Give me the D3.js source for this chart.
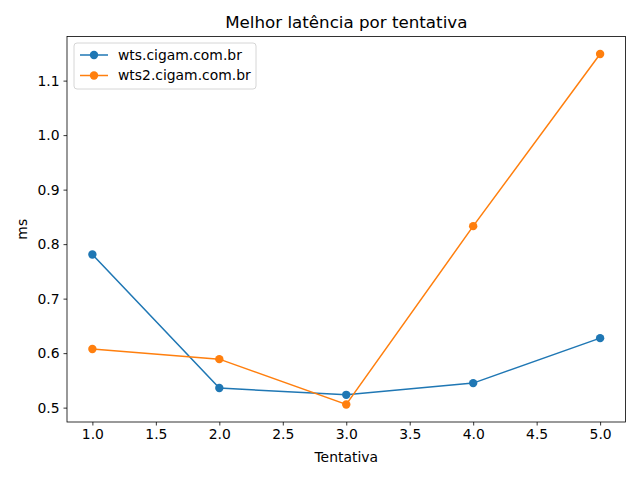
<!DOCTYPE html>
<html><head><meta charset="utf-8">
<script src="https://cdn.jsdelivr.net/npm/d3@7"></script>
<style>body{margin:0;background:#fff}svg{display:block}</style>
</head><body>
<script>
const tentativas = [1, 2, 3, 4, 5];
const wts = [0.781, 0.536, 0.5235, 0.545, 0.6275];
const wts2 = [0.6075, 0.589, 0.5058, 0.833, 1.1488];
const seriesNames = ["wts.cigam.com.br", "wts2.cigam.com.br"];
const colors = ["#1f77b4", "#ff7f0e"];
const xTicks = [1.0, 1.5, 2.0, 2.5, 3.0, 3.5, 4.0, 4.5, 5.0];
const yTicks = [0.5, 0.6, 0.7, 0.8, 0.9, 1.0, 1.1];

const W = 640, H = 480;
const L = 67, R = 625.5, T = 36.5, B = 422;
const font = "DejaVu Sans, sans-serif";
const svg = d3.select("body").append("svg").attr("width", W).attr("height", H);

const all = wts.concat(wts2);
const ymin = d3.min(all), ymax = d3.max(all), ys = ymax - ymin;
const x = d3.scaleLinear().domain([0.8, 5.2]).range([L, R]);
const y = d3.scaleLinear().domain([ymin - 0.05 * ys, ymax + 0.05 * ys]).range([B, T]);

const xAxis = svg.append("g").attr("transform", `translate(0,${B})`)
  .call(d3.axisBottom(x).tickValues(xTicks).tickFormat(d3.format(".1f")).tickSize(3.5).tickPadding(4));
const yAxis = svg.append("g").attr("transform", `translate(${L},0)`)
  .call(d3.axisLeft(y).tickValues(yTicks).tickFormat(d3.format(".1f")).tickSize(3.5).tickPadding(4));
[xAxis, yAxis].forEach(a => {
  a.select(".domain").remove();
  a.selectAll("text").attr("font-family", font).attr("font-size", 13.9).attr("fill", "#000");
  a.selectAll("line").attr("stroke", "#000").attr("stroke-width", 0.8);
});
xAxis.selectAll("text").attr("dy", "0.71em");

svg.append("rect").attr("x", L).attr("y", T).attr("width", R - L).attr("height", B - T)
  .attr("fill", "none").attr("stroke", "#000").attr("stroke-width", 0.8);

const data = [wts, wts2];
const line = d3.line().x((d, i) => x(tentativas[i])).y(d => y(d));
data.forEach((s, k) => {
  svg.append("path").datum(s).attr("d", line).attr("fill", "none")
    .attr("stroke", colors[k]).attr("stroke-width", 1.5);
  svg.selectAll(null).data(s).enter().append("circle")
    .attr("cx", (d, i) => x(tentativas[i])).attr("cy", d => y(d)).attr("r", 4.2)
    .attr("fill", colors[k]);
});

svg.append("text").attr("x", (L + R) / 2).attr("y", 28).attr("text-anchor", "middle")
  .attr("font-family", font).attr("font-size", 16.7).text("Melhor latência por tentativa");
svg.append("text").attr("x", (L + R) / 2).attr("y", 462).attr("text-anchor", "middle")
  .attr("font-family", font).attr("font-size", 13.9).text("Tentativa");
svg.append("text").attr("transform", `translate(27,${(T + B) / 2}) rotate(-90)`).attr("text-anchor", "middle")
  .attr("font-family", font).attr("font-size", 13.9).text("ms");

const lg = svg.append("g").attr("transform", "translate(74,43)");
lg.append("rect").attr("width", 182).attr("height", 46).attr("rx", 3)
  .attr("fill", "#fff").attr("fill-opacity", 0.8).attr("stroke", "#ccc").attr("stroke-width", 0.8);
seriesNames.forEach((n, k) => {
  const yy = 12 + k * 20.5;
  lg.append("line").attr("x1", 6).attr("x2", 34).attr("y1", yy).attr("y2", yy)
    .attr("stroke", colors[k]).attr("stroke-width", 1.5);
  lg.append("circle").attr("cx", 20).attr("cy", yy).attr("r", 4.2).attr("fill", colors[k]);
  lg.append("text").attr("x", 44).attr("y", yy).attr("dy", "0.35em")
    .attr("font-family", font).attr("font-size", 13.9).text(n);
});
</script>
</body></html>
